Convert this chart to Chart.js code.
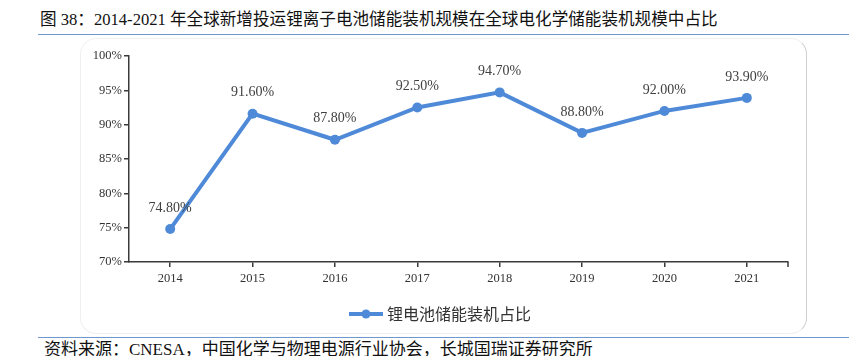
<!DOCTYPE html>
<html>
<head>
<meta charset="utf-8">
<script src="https://cdn.jsdelivr.net/npm/chart.js@4.4.1/dist/chart.umd.min.js"></script>
<style>
  html, body { margin: 0; padding: 0; background: #fff; }
  #wrap { position: relative; width: 860px; height: 356px; overflow: hidden; background: #fff; }
  #title { position: absolute; left: 40px; top: 9px; font: 16.6px/22px "Liberation Serif", "Noto Sans CJK SC", serif; color: #111; white-space: nowrap; }
  #source { position: absolute; left: 44px; top: 339px; font: 17px/22px "Liberation Serif", "Noto Sans CJK SC", serif; color: #111; white-space: nowrap; }
  .rule { position: absolute; left: 38px; width: 811px; height: 0; border-top: 1px solid #6f98d0; }
  #box { position: absolute; left: 80px; top: 38px; width: 725px; height: 294px; border: 1px solid #f0f0f0; border-right-color: #cfcfcf; border-radius: 16px; }
  canvas { position: absolute; left: 0; top: 0; }
</style>
</head>
<body>
<div id="wrap">
  <div id="title">图 38：2014-2021 年全球新增投运锂离子电池储能装机规模在全球电化学储能装机规模中占比</div>
  <div class="rule" style="top:34px"></div>
  <div id="box"></div>
  <div class="rule" style="top:337px"></div>
  <div id="source">资料来源：CNESA，中国化学与物理电源行业协会，长城国瑞证券研究所</div>
  <canvas id="c" width="860" height="356"></canvas>
</div>
<script>
const categories = ['2014', '2015', '2016', '2017', '2018', '2019', '2020', '2021'];
const seriesName = '锂电池储能装机占比';
const shareValues = [74.8, 91.6, 87.8, 92.5, 94.7, 88.8, 92.0, 93.9];
const yMin = 70, yMax = 100, yStep = 5;

const lineColor = '#4f8ad8';
const axisColor = '#3a3a3a';
const serif = '"Liberation Serif", "Times New Roman", serif';

const labelPlugin = {
  id: 'valueLabels',
  afterDatasetsDraw(chart) {
    const ctx = chart.ctx;
    const meta = chart.getDatasetMeta(0);
    ctx.save();
    ctx.font = '14px ' + serif;
    ctx.fillStyle = '#404040';
    ctx.textAlign = 'center';
    ctx.textBaseline = 'middle';
    meta.data.forEach((pt, i) => {
      const v = chart.data.datasets[0].data[i];
      ctx.fillText(v.toFixed(2) + '%', pt.x, pt.y - 21);
    });
    ctx.restore();
  }
};

const endTickPlugin = {
  id: 'endTick',
  afterDraw(chart) {
    const s = chart.scales.x;
    const ctx = chart.ctx;
    ctx.save();
    ctx.strokeStyle = axisColor;
    ctx.lineWidth = 1.5;
    ctx.beginPath();
    ctx.moveTo(s.right, s.top);
    ctx.lineTo(s.right, s.top + 5);
    ctx.stroke();
    ctx.restore();
  }
};

const legendPlugin = {
  id: 'lineLegend',
  afterDraw(chart) {
    const ctx = chart.ctx;
    const ds = chart.data.datasets[0];
    ctx.save();
    ctx.font = '16px "Noto Sans CJK SC", sans-serif';
    const tw = ctx.measureText(ds.label).width;
    const lineW = 34, gap = 4;
    const total = lineW + gap + tw;
    const cx = 440, cy = 314;
    const x0 = cx - total / 2;
    ctx.strokeStyle = ds.borderColor;
    ctx.lineWidth = 4;
    ctx.beginPath();
    ctx.moveTo(x0, cy);
    ctx.lineTo(x0 + lineW, cy);
    ctx.stroke();
    ctx.fillStyle = ds.borderColor;
    ctx.beginPath();
    ctx.arc(x0 + lineW / 2, cy, 4.5, 0, Math.PI * 2);
    ctx.fill();
    ctx.fillStyle = '#333';
    ctx.textAlign = 'left';
    ctx.textBaseline = 'middle';
    ctx.fillText(ds.label, x0 + lineW + gap, cy);
    ctx.restore();
  }
};

new Chart(document.getElementById('c'), {
  type: 'line',
  data: {
    labels: categories,
    datasets: [{
      label: seriesName,
      data: shareValues,
      borderColor: lineColor,
      backgroundColor: lineColor,
      borderWidth: 4,
      pointRadius: 5,
      pointHoverRadius: 5,
      pointBackgroundColor: lineColor,
      pointBorderWidth: 0,
      tension: 0,
      fill: false
    }]
  },
  options: {
    responsive: false,
    animation: false,
    devicePixelRatio: 1,
    events: [],
    layout: { padding: { top: 56, left: 0, right: 72, bottom: 0 } },
    plugins: { legend: { display: false }, tooltip: { enabled: false }, title: { display: false } },
    scales: {
      x: {
        type: 'category',
        offset: true,
        afterFit(s) { s.height = 94; },
        grid: { display: true, drawOnChartArea: false, drawTicks: true, tickLength: 5, color: axisColor, lineWidth: 1.5, offset: false },
        border: { display: true, color: axisColor, width: 1.5 },
        ticks: { color: '#333', font: { family: serif, size: 12.5 }, padding: 4, maxRotation: 0 }
      },
      y: {
        min: yMin, max: yMax,
        afterFit(s) { s.width = 129; },
        grid: { display: true, drawOnChartArea: false, drawTicks: true, tickLength: 5, color: axisColor, lineWidth: 1.5 },
        border: { display: true, color: axisColor, width: 1.5 },
        ticks: { stepSize: yStep, color: '#333', font: { family: serif, size: 12.5 }, padding: 2, callback: v => v + '%' }
      }
    }
  },
  plugins: [labelPlugin, endTickPlugin, legendPlugin]
});
</script>
</body>
</html>
